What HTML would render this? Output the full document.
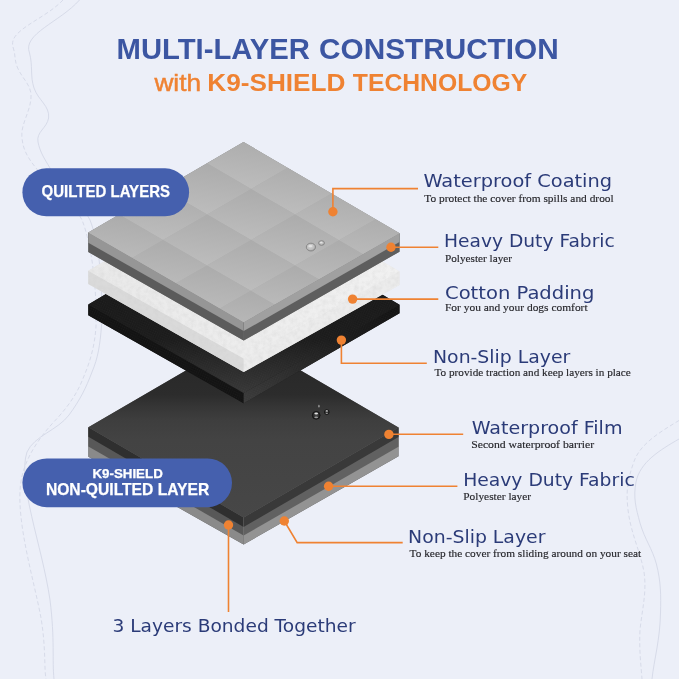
<!DOCTYPE html>
<html lang="en"><head><meta charset="utf-8"><title>Multi-Layer Construction</title>
<style>
html,body{margin:0;padding:0;background:#ECEFF8;}
body{width:679px;height:679px;overflow:hidden;}
svg{display:block;}
</style></head><body>
<svg width="679" height="679" viewBox="0 0 679 679">
<defs>
<linearGradient id="gFace2" x1="0" y1="0" x2="0" y2="1"><stop offset="0" stop-color="#262626"/><stop offset="0.32" stop-color="#2c2c2c"/><stop offset="0.39" stop-color="#363636"/><stop offset="0.46" stop-color="#3e3e3e"/><stop offset="0.57" stop-color="#434343"/><stop offset="1" stop-color="#474747"/></linearGradient>
<linearGradient id="gBlk" x1="0" y1="0" x2="0" y2="1"><stop offset="0" stop-color="#141414"/><stop offset="0.7" stop-color="#1a1a1a"/><stop offset="1" stop-color="#363636"/></linearGradient>
<linearGradient id="gBlkR" x1="0" y1="1" x2="1" y2="0"><stop offset="0" stop-color="#3a3a3a"/><stop offset="0.6" stop-color="#1c1c1c"/><stop offset="1" stop-color="#111"/></linearGradient>
<pattern id="carbon" width="2.4" height="2.4" patternUnits="userSpaceOnUse" patternTransform="rotate(30)"><rect width="2.4" height="2.4" fill="none"/><rect width="1.2" height="1.2" fill="#fff" opacity="0.04"/><rect x="1.2" y="1.2" width="1.2" height="1.2" fill="#fff" opacity="0.02"/></pattern>
<linearGradient id="gWh" x1="0" y1="0" x2="1" y2="0"><stop offset="0" stop-color="#e9e9e9"/><stop offset="1" stop-color="#f1f1f1"/></linearGradient>
<filter id="cotton" x="0" y="0" width="1" height="1"><feTurbulence type="fractalNoise" baseFrequency="0.22" numOctaves="3" seed="4" result="n"/><feColorMatrix in="n" type="matrix" values="0 0 0 0 0.6  0 0 0 0 0.6  0 0 0 0 0.6  0 0 0 1.4 -0.5"/><feComposite in2="SourceGraphic" operator="in"/></filter>
<linearGradient id="gCell" x1="0.62" y1="0" x2="0.38" y2="1"><stop offset="0" stop-color="#ababab"/><stop offset="1" stop-color="#bdbdbd"/></linearGradient>
<clipPath id="faceClip"><polygon points="243.5,142.0 399.5,233.3 243.7,322.2 88.3,232.5"/></clipPath>
<radialGradient id="gDropL" cx="0.45" cy="0.4" r="0.6"><stop offset="0" stop-color="#d2d2d2"/><stop offset="0.7" stop-color="#bdbdbd"/><stop offset="1" stop-color="#9a9a9a"/></radialGradient>
<radialGradient id="gDropD" cx="0.5" cy="0.5" r="0.55"><stop offset="0" stop-color="#4a4a4a"/><stop offset="0.7" stop-color="#2a2a2a"/><stop offset="1" stop-color="#0e0e0e"/></radialGradient>
</defs>
<rect width="679" height="679" fill="#ECEFF8"/>
<g fill="none" stroke="#d7dbe9" stroke-width="1">
<path d="M79.5 0 C60 22 22 34 29.5 53 C33 66 30 76 34 88 C38 100 50 106 48.6 118 C47 128 36 132 38 142 C40 152 44 158 50 168 C62 186 80 200 90 220 C100 245 103 290 101.5 326 C100 345 98 358 92 372 C86 388 80 400 69 415 C58 430 34 436 27 452 C17 482 42 545 50 600 C55 640 52 660 54 679"/>
<path d="M63 0 C44 20 8 30 13 47 C16 56 14 60 17.7 68 C22 78 30 84 31 94 C32 110 20 124 22 138 C23 150 28 158 36 168 C50 186 72 200 82 220 C92 245 97 290 96 326 C95 345 90 362 84 376 C78 392 70 404 57.5 418 C44 432 24 456 20.6 484 C16 522 34 580 41 618 C46 648 44 668 46 679" stroke-dasharray="4 2.5"/>
<path d="M679 439 C660 450 640 462 636 482 C633 498 636 508 640 523 C645 540 652 548 656.4 564 C661 582 661 596 660.5 613 C660 640 654 660 652 679"/>
<path d="M679 420.5 C660 432 640 444 634 461.5 C628 478 626 490 627.7 506.7 C630 532 640 550 644 572 C647 592 642 610 640 630 C639 650 641 665 642 679" stroke-dasharray="4 2.5"/>
</g>
<polygon points="243.5,337.0 398.5,427.5 398.5,456.3 243.6,544.5 88.4,456.7 88.4,427.2" fill="#555"/>
<polygon points="88.4,427.2 243.6,517.5 243.6,544.5 88.4,456.7" fill="#8a8a8a"/>
<polygon points="88.4,427.2 243.6,517.5 243.6,535.5 88.4,446.4" fill="#585858"/>
<polygon points="88.4,427.2 243.6,517.5 243.6,527.0 88.4,436.8" fill="#2f2f2f"/>
<polygon points="398.5,427.5 243.6,517.5 243.6,544.5 398.5,456.3" fill="#939393"/>
<polygon points="398.5,427.5 243.6,517.5 243.6,535.5 398.5,446.7" fill="#616161"/>
<polygon points="398.5,427.5 243.6,517.5 243.6,527.0 398.5,437.1" fill="#393939"/>
<polygon points="243.5,337.0 398.5,427.5 243.6,517.5 88.4,427.2" fill="url(#gFace2)"/>
<polygon points="243.5,212.5 399.5,304.7 399.5,313.2 243.7,403.3 88.3,315.3 88.3,304.5" fill="#1a1a1a"/>
<polygon points="88.3,304.5 243.7,393.0 243.7,403.3 88.3,315.3" fill="#111111"/>
<polygon points="399.5,304.7 243.7,393.0 243.7,403.3 399.5,313.2" fill="url(#gBlkR)"/>
<polygon points="243.5,212.5 399.5,304.7 243.7,393.0 88.3,304.5" fill="url(#gBlk)"/>
<polygon points="243.5,212.5 399.5,304.7 399.5,313.2 243.7,403.3 88.3,315.3 88.3,304.5" fill="url(#carbon)"/>
<polygon points="243.5,180.0 399.5,271.5 399.5,285.0 243.7,372.1 88.3,283.9 88.3,270.7" fill="#e4e4e4"/>
<polygon points="88.3,270.7 243.7,358.5 243.7,372.1 88.3,283.9" fill="#dadada"/>
<polygon points="399.5,271.5 243.7,358.5 243.7,372.1 399.5,285.0" fill="#ececec"/>
<polygon points="243.5,180.0 399.5,271.5 243.7,358.5 88.3,270.7" fill="url(#gWh)"/>
<polygon points="243.5,180.0 399.5,271.5 399.5,285.0 243.7,372.1 88.3,283.9 88.3,270.7" fill="#fff" filter="url(#cotton)" opacity="0.4"/>
<polygon points="243.5,142.0 399.5,233.3 399.5,251.7 243.7,340.6 88.3,252.0 88.3,232.5" fill="#777"/>
<polygon points="88.3,232.5 243.7,322.2 243.7,340.6 88.3,252.0" fill="#5b5b5b"/>
<polygon points="88.3,232.5 243.7,322.2 243.7,331.1 88.3,242.7" fill="#969696"/>
<polygon points="399.5,233.3 243.7,322.2 243.7,340.6 399.5,251.7" fill="#5e5e5e"/>
<polygon points="399.5,233.3 243.7,322.2 243.7,331.1 399.5,242.1" fill="#a0a0a0"/>
<polygon points="243.5,142.0 399.5,233.3 243.7,322.2 88.3,232.5" fill="#acacac"/>
<g clip-path="url(#faceClip)">
<polygon points="251.0,137.7 295.0,163.6 251.1,189.0 207.1,163.3" fill="url(#gCell)"/>
<polygon points="207.1,163.3 251.1,189.0 207.2,214.5 163.2,188.9" fill="url(#gCell)"/>
<polygon points="163.2,188.9 207.2,214.5 163.0,240.1 119.1,214.6" fill="url(#gCell)"/>
<polygon points="119.1,214.6 163.0,240.1 119.1,265.5 75.2,240.2" fill="url(#gCell)"/>
<polygon points="295.0,163.6 339.0,189.3 295.1,214.6 251.1,189.0" fill="url(#gCell)"/>
<polygon points="251.1,189.0 295.1,214.6 251.1,240.0 207.2,214.5" fill="url(#gCell)"/>
<polygon points="207.2,214.5 251.1,240.0 206.9,265.4 163.0,240.1" fill="url(#gCell)"/>
<polygon points="163.0,240.1 206.9,265.4 162.9,290.8 119.1,265.5" fill="url(#gCell)"/>
<polygon points="339.0,189.3 383.0,215.1 339.0,240.3 295.1,214.6" fill="url(#gCell)"/>
<polygon points="295.1,214.6 339.0,240.3 295.0,265.5 251.1,240.0" fill="url(#gCell)"/>
<polygon points="251.1,240.0 295.0,265.5 250.8,290.8 206.9,265.4" fill="url(#gCell)"/>
<polygon points="206.9,265.4 250.8,290.8 206.7,316.1 162.9,290.8" fill="url(#gCell)"/>
<polygon points="383.0,215.1 427.2,241.0 383.1,266.0 339.0,240.3" fill="url(#gCell)"/>
<polygon points="339.0,240.3 383.1,266.0 339.0,291.1 295.0,265.5" fill="url(#gCell)"/>
<polygon points="295.0,265.5 339.0,291.1 294.8,316.3 250.8,290.8" fill="url(#gCell)"/>
<polygon points="250.8,290.8 294.8,316.3 250.7,341.4 206.7,316.1" fill="url(#gCell)"/>
</g>
<ellipse cx="310.9" cy="247.1" rx="4.6" ry="3.9" fill="url(#gDropL)" stroke="#828282" stroke-width="0.9"/>
<ellipse cx="310.4" cy="246.1" rx="2.1" ry="1.2" fill="#e6e6e6" opacity="0.8"/>
<ellipse cx="321.5" cy="243.0" rx="2.9" ry="2.3" fill="url(#gDropL)" stroke="#828282" stroke-width="0.9"/>
<ellipse cx="321.2" cy="242.4" rx="1.3" ry="0.7" fill="#e6e6e6" opacity="0.8"/>
<circle cx="316.2" cy="415.3" r="3.9" fill="url(#gDropD)" stroke="#151515" stroke-width="0.8"/>
<ellipse cx="316.2" cy="413.4" rx="1.9" ry="1.0" fill="#e0e0e0"/>
<ellipse cx="316.2" cy="417.4" rx="1.9" ry="0.8" fill="#9a9a9a"/>
<circle cx="326.8" cy="412.1" r="2.4" fill="url(#gDropD)" stroke="#151515" stroke-width="0.8"/>
<ellipse cx="326.8" cy="410.9" rx="1.2" ry="0.6" fill="#e0e0e0"/>
<ellipse cx="326.8" cy="413.4" rx="1.2" ry="0.5" fill="#9a9a9a"/>
<ellipse cx="318.9" cy="406.2" rx="0.9" ry="1.4" fill="#8a8a8a"/>
<rect x="22.4" y="168.3" width="166.7" height="48" rx="24" fill="#4560AE"/>
<rect x="22.4" y="458.4" width="209.6" height="48.8" rx="24.4" fill="#4560AE"/>
<g fill="none" stroke="#EF8232" stroke-width="1.6">
<path d="M332.9 211.7 V188.6 H418"/>
<path d="M391 247.2 H438.3"/>
<path d="M352.6 299.1 H438.3"/>
<path d="M341.4 340.1 V363.3 H426.8"/>
<path d="M388.9 434.2 H463.2"/>
<path d="M328.6 486.3 H457.4"/>
<path d="M284.3 521 L297.2 542.6 H402.7"/>
<path d="M228.5 525 V612"/>
</g>
<g fill="#EF8232">
<circle cx="332.9" cy="211.7" r="4.7"/>
<circle cx="391.0" cy="247.2" r="4.7"/>
<circle cx="352.6" cy="299.1" r="4.7"/>
<circle cx="341.4" cy="340.1" r="4.7"/>
<circle cx="388.9" cy="434.4" r="4.7"/>
<circle cx="328.6" cy="486.3" r="4.7"/>
<circle cx="284.3" cy="521.0" r="4.7"/>
<circle cx="228.5" cy="525.0" r="4.7"/>
</g>
<g opacity="0.999">
<text x="116.5" y="58.9" textLength="193.5" lengthAdjust="spacingAndGlyphs" font-family="'Liberation Sans', 'DejaVu Sans', sans-serif" font-size="30.30" font-weight="bold" fill="#3C56A2" >MULTI-LAYER</text>
<text x="319.0" y="58.9" textLength="239.7" lengthAdjust="spacingAndGlyphs" font-family="'Liberation Sans', 'DejaVu Sans', sans-serif" font-size="30.30" font-weight="bold" fill="#3C56A2" >CONSTRUCTION</text>
<text x="154.4" y="91.4" textLength="46.7" lengthAdjust="spacingAndGlyphs" font-family="'Liberation Sans', 'DejaVu Sans', sans-serif" font-size="23.60" font-weight="normal" fill="#EF8232" stroke="#EF8232" stroke-width="0.45">with</text>
<text x="207.3" y="91.4" textLength="138.2" lengthAdjust="spacingAndGlyphs" font-family="'Liberation Sans', 'DejaVu Sans', sans-serif" font-size="24.60" font-weight="bold" fill="#EF8232" >K9-SHIELD</text>
<text x="352.8" y="91.4" textLength="174.4" lengthAdjust="spacingAndGlyphs" font-family="'Liberation Sans', 'DejaVu Sans', sans-serif" font-size="24.60" font-weight="bold" fill="#EF8232" >TECHNOLOGY</text>
<text x="41.6" y="197.0" textLength="128.4" lengthAdjust="spacingAndGlyphs" font-family="'Liberation Sans', 'DejaVu Sans', sans-serif" font-size="16.60" font-weight="bold" fill="#fff" stroke="#fff" stroke-width="0.25">QUILTED LAYERS</text>
<text x="92.4" y="477.8" textLength="70.4" lengthAdjust="spacingAndGlyphs" font-family="'Liberation Sans', 'DejaVu Sans', sans-serif" font-size="12.35" font-weight="bold" fill="#fff" stroke="#fff" stroke-width="0.25">K9-SHIELD</text>
<text x="45.9" y="495.3" textLength="163.4" lengthAdjust="spacingAndGlyphs" font-family="'Liberation Sans', 'DejaVu Sans', sans-serif" font-size="16.60" font-weight="bold" fill="#fff" stroke="#fff" stroke-width="0.25">NON-QUILTED LAYER</text>
<text x="423.4" y="186.6" textLength="188.7" lengthAdjust="spacingAndGlyphs" font-family="'DejaVu Sans', 'Liberation Sans', sans-serif" font-size="17.40" font-weight="normal" fill="#2B3B78" >Waterproof Coating</text>
<text x="424.3" y="201.6" textLength="189.4" lengthAdjust="spacingAndGlyphs" font-family="'Liberation Serif', 'DejaVu Serif', serif" font-size="10.50" font-weight="normal" fill="#26262B" stroke="#26262B" stroke-width="0.15">To protect the cover from spills and drool</text>
<text x="444.0" y="247.3" textLength="170.8" lengthAdjust="spacingAndGlyphs" font-family="'DejaVu Sans', 'Liberation Sans', sans-serif" font-size="17.40" font-weight="normal" fill="#2B3B78" >Heavy Duty Fabric</text>
<text x="445.0" y="261.5" textLength="67.0" lengthAdjust="spacingAndGlyphs" font-family="'Liberation Serif', 'DejaVu Serif', serif" font-size="10.50" font-weight="normal" fill="#26262B" stroke="#26262B" stroke-width="0.15">Polyester layer</text>
<text x="445.0" y="298.6" textLength="149.4" lengthAdjust="spacingAndGlyphs" font-family="'DejaVu Sans', 'Liberation Sans', sans-serif" font-size="17.40" font-weight="normal" fill="#2B3B78" >Cotton Padding</text>
<text x="445.0" y="311.3" textLength="142.6" lengthAdjust="spacingAndGlyphs" font-family="'Liberation Serif', 'DejaVu Serif', serif" font-size="10.50" font-weight="normal" fill="#26262B" stroke="#26262B" stroke-width="0.15">For you and your dogs comfort</text>
<text x="433.0" y="363.3" textLength="137.3" lengthAdjust="spacingAndGlyphs" font-family="'DejaVu Sans', 'Liberation Sans', sans-serif" font-size="17.40" font-weight="normal" fill="#2B3B78" >Non-Slip Layer</text>
<text x="434.5" y="376.0" textLength="196.3" lengthAdjust="spacingAndGlyphs" font-family="'Liberation Serif', 'DejaVu Serif', serif" font-size="10.50" font-weight="normal" fill="#26262B" stroke="#26262B" stroke-width="0.15">To provide traction and keep layers in place</text>
<text x="471.7" y="434.2" textLength="150.8" lengthAdjust="spacingAndGlyphs" font-family="'DejaVu Sans', 'Liberation Sans', sans-serif" font-size="17.40" font-weight="normal" fill="#2B3B78" >Waterproof Film</text>
<text x="471.2" y="448.0" textLength="123.0" lengthAdjust="spacingAndGlyphs" font-family="'Liberation Serif', 'DejaVu Serif', serif" font-size="10.50" font-weight="normal" fill="#26262B" stroke="#26262B" stroke-width="0.15">Second waterproof barrier</text>
<text x="463.2" y="486.1" textLength="171.5" lengthAdjust="spacingAndGlyphs" font-family="'DejaVu Sans', 'Liberation Sans', sans-serif" font-size="17.40" font-weight="normal" fill="#2B3B78" >Heavy Duty Fabric</text>
<text x="463.3" y="500.2" textLength="67.8" lengthAdjust="spacingAndGlyphs" font-family="'Liberation Serif', 'DejaVu Serif', serif" font-size="10.50" font-weight="normal" fill="#26262B" stroke="#26262B" stroke-width="0.15">Polyester layer</text>
<text x="408.1" y="543.1" textLength="137.3" lengthAdjust="spacingAndGlyphs" font-family="'DejaVu Sans', 'Liberation Sans', sans-serif" font-size="17.40" font-weight="normal" fill="#2B3B78" >Non-Slip Layer</text>
<text x="409.6" y="556.9" textLength="231.5" lengthAdjust="spacingAndGlyphs" font-family="'Liberation Serif', 'DejaVu Serif', serif" font-size="10.50" font-weight="normal" fill="#26262B" stroke="#26262B" stroke-width="0.15">To keep the cover from sliding around on your seat</text>
<text x="112.4" y="632.1" textLength="243.3" lengthAdjust="spacingAndGlyphs" font-family="'DejaVu Sans', 'Liberation Sans', sans-serif" font-size="18.50" font-weight="normal" fill="#2B3B78" >3 Layers Bonded Together</text>
</g>
</svg>
</body></html>
